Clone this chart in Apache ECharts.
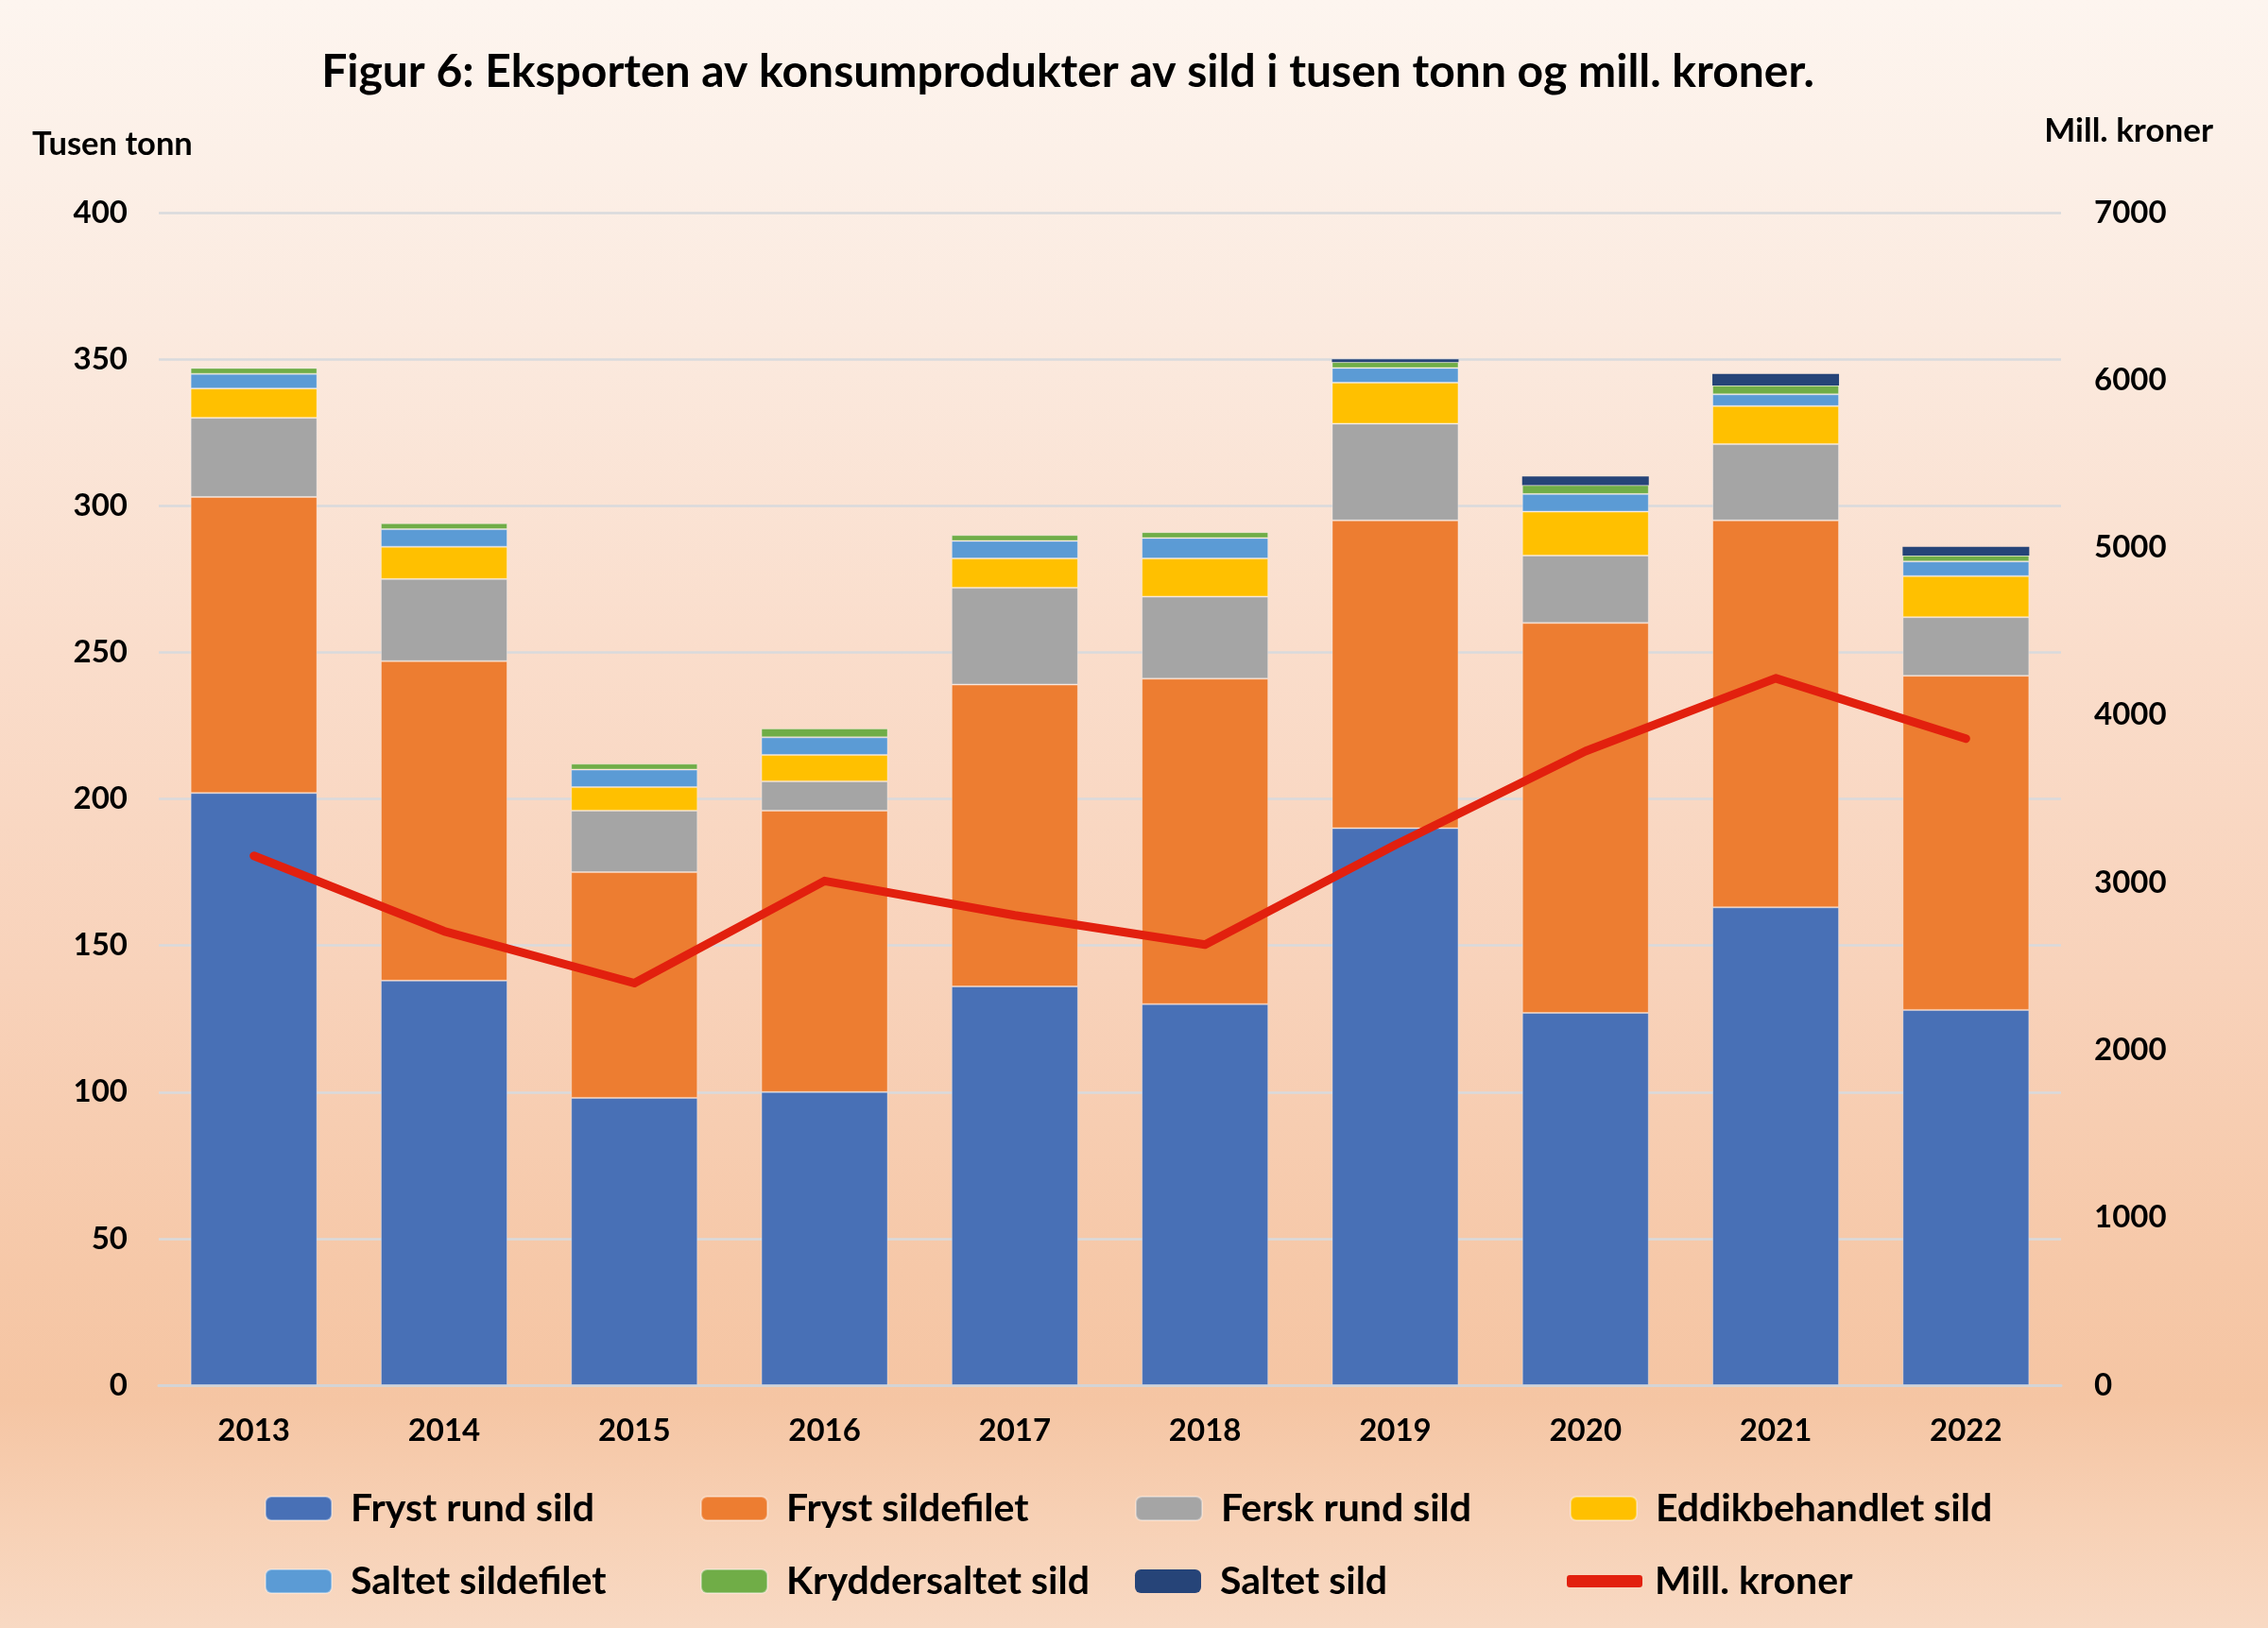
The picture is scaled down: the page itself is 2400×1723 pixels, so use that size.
<!DOCTYPE html>
<html>
<head>
<meta charset="utf-8">
<script src="https://cdn.jsdelivr.net/npm/echarts@6/dist/echarts.min.js"></script>
<style>
html,body{margin:0;padding:0;}
#c{width:2400px;height:1723px;background:linear-gradient(to bottom,#FDF5EF 0%,#FBEADF 20%,#FADDCB 40%,#F8D2BA 60%,#F6C8A8 78%,#F5C5A3 86%,#F7D0B4 93%,#F8D9C3 100%);}
</style>
</head>
<body>
<div id="c"></div>
<script>
const categories = ['2013','2014','2015','2016','2017','2018','2019','2020','2021','2022'];
const frystRundSild = [202,138,98,100,136,130,190,127,163,128];
const frystSildefilet = [101,109,77,96,103,111,105,133,132,114];
const ferskRundSild = [27,28,21,10,33,28,33,23,26,20];
const eddikbehandletSild = [10,11,8,9,10,13,14,15,13,14];
const saltetSildefilet = [5,6,6,6,6,7,5,6,4,5];
const kryddersaltetSild = [2,2,2,3,2,2,2,3,3,2];
const saltetSild = [0,0,0,0,0,0,1,3,4,3];
const millKroner = [3160,2710,2400,3010,2805,2630,3225,3785,4220,3860];
const leftTicks = [0,50,100,150,200,250,300,350,400];
const rightTicks = [0,1000,2000,3000,4000,5000,6000,7000];

const FONT = 'Lato';
const chart = echarts.init(document.getElementById('c'), null, {width:2400, height:1723});

const barNames = ['Fryst rund sild','Fryst sildefilet','Fersk rund sild','Eddikbehandlet sild','Saltet sildefilet','Kryddersaltet sild','Saltet sild'];
const barData = [frystRundSild,frystSildefilet,ferskRundSild,eddikbehandletSild,saltetSildefilet,kryddersaltetSild,saltetSild];
const colors = ['#4870B6','#ED7D31','#A5A5A5','#FFC000','#5B9BD5','#70AD47','#264478'];

const series = barNames.map((n,i)=>({
  name:n, type:'bar', stack:'total', yAxisIndex:0, barWidth:134,
  data:barData[i],
  itemStyle:{color:colors[i], borderColor:'rgba(255,255,255,0.35)', borderWidth: i===6?0:1},
  emphasis:{disabled:true}
}));
series.push({
  name:'Mill. kroner', type:'line', yAxisIndex:1, data:millKroner,
  symbol:'none', smooth:false,
  lineStyle:{color:'#E2200E', width:9, cap:'round', join:'round'},
  itemStyle:{color:'#E2200E'}, z:10
});

const legendPos = [
  [280,1576],[741,1576],[1201,1576],[1661,1576],
  [280,1653],[741,1653],[1201,1653],[1658,1653]
];
const legendNames = barNames.concat(['Mill. kroner']);
const legends = legendNames.map((n,i)=>({
  data:[ i===7 ? {name:n, icon:'roundRect', itemStyle:{color:'#E2200E'}} : n ],
  left:legendPos[i][0], top:legendPos[i][1],
  orient:'horizontal', padding:0,
  itemWidth: i===7?80:70, itemHeight: i===7?13:25,
  textStyle:{fontFamily:FONT, fontWeight:'bold', fontSize:41, color:'#000', lineHeight:40, padding:[0,0,0, i===7?8:15]},
  selectedMode:false
}));

chart.setOption({
  animation:false,
  backgroundColor:'transparent',
  graphic:[
    {type:'text', x:1130, y:77, style:{text:'Figur 6: Eksporten av konsumprodukter av sild i tusen tonn og mill. kroner.', font:'bold 48px Lato', fill:'#000', textAlign:'center', textVerticalAlign:'middle'}},
    {type:'text', x:34, y:153, style:{text:'Tusen tonn', font:'bold 34.5px Lato', fill:'#000', textAlign:'left', textVerticalAlign:'middle'}},
    {type:'text', x:2342, y:139, style:{text:'Mill. kroner', font:'bold 35px Lato', fill:'#000', textAlign:'right', textVerticalAlign:'middle'}}
  ],
  legend:legends,
  grid:{left:168, right:219, top:225, bottom:257, containLabel:false},
  xAxis:{
    type:'category', data:categories,
    axisLine:{show:true, lineStyle:{color:'#D4D4D6', width:3}},
    axisTick:{show:false},
    axisLabel:{fontFamily:FONT, fontWeight:'bold', fontSize:33, color:'#000', margin:32}
  },
  yAxis:[
    {type:'value', min:leftTicks[0], max:leftTicks[leftTicks.length-1], interval:50,
     axisLine:{show:false}, axisTick:{show:false},
     splitLine:{show:true, lineStyle:{color:'#D9DADD', width:2.5}},
     axisLabel:{fontFamily:FONT, fontWeight:'bold', fontSize:33, color:'#000', margin:33, formatter:v=>String(v)}},
    {type:'value', min:rightTicks[0], max:rightTicks[rightTicks.length-1], interval:1000,
     axisLine:{show:false}, axisTick:{show:false}, splitLine:{show:false},
     axisLabel:{fontFamily:FONT, fontWeight:'bold', fontSize:33, color:'#000', margin:35, formatter:v=>String(v)}}
  ],
  series:series
});
</script>
</body>
</html>
